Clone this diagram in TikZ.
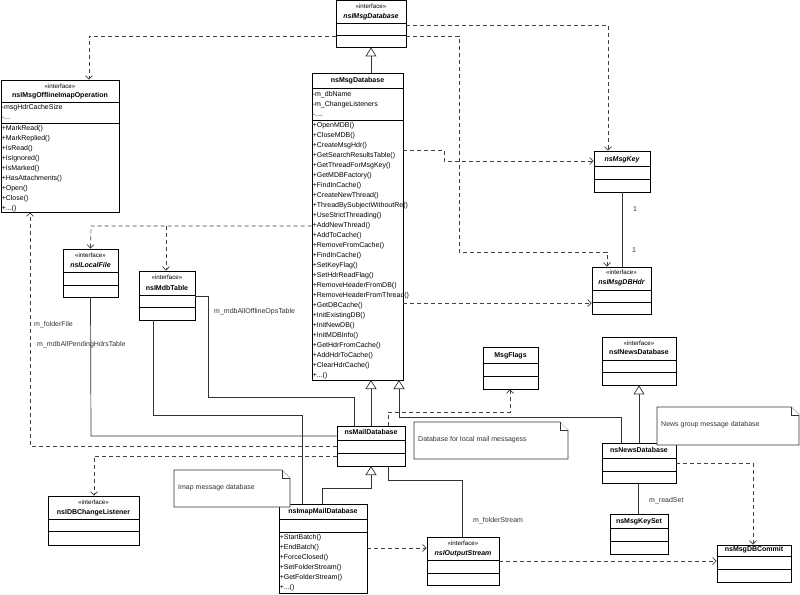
\documentclass[tikz,border=0pt]{standalone}
\usepackage{fontspec}
\setmainfont{Liberation Sans}
\usetikzlibrary{fit,arrows.meta}
\newcommand\fs{\fontsize{7}{10}\selectfont}
\newcommand\fss{\fontsize{6.2}{8}\selectfont}
\tikzset{
 cls/.style={draw,inner sep=0pt,fill=white,line width=0.8pt},
 dep/.style={draw=black!75,line width=0.7pt,dash pattern=on 4pt off 3pt,-{Straight Barb[length=3.5pt,width=7pt]}},
 inh/.style={draw=black!80,line width=0.7pt,-{Triangle[open,length=9pt,width=11pt,fill=white]}},
 asc/.style={draw=black!80,line width=0.7pt},
 lbl/.style={font=\fs,inner sep=0pt,anchor=base west,text=black!80},
 note/.style={draw=black!80,line width=0.7pt,fill=white},
}
\newcommand\mkcls[5]{\path (#2,#3) coordinate (#1-a) (#4,#5) coordinate (#1-b); \node[cls,fit=(#1-a)(#1-b)] (#1) {};}
\newcommand\hl[2]{\path (0,#2) coordinate (tmp); \draw[line width=0.7pt] (#1.west|-tmp) -- (#1.east|-tmp);}
\newcommand\itf[2]{\path (0,#2+2.2) coordinate (tmp); \node[font=\fss,inner sep=0pt,anchor=base] at (#1.north|-tmp) {«interface»};}
\newcommand\nm[3]{\path (0,#2+2.5) coordinate (tmp); \node[font=\fs\bfseries,inner sep=0pt,anchor=base] at (#1.north|-tmp) {#3};}
\newcommand\lst[3]{\path (0,#2+2) coordinate (tmp); \node[font=\fs,inner sep=0pt,align=left,anchor=north west] at ([xshift=1pt]#1.west|-tmp) {#3};}
\begin{document}
\begin{tikzpicture}[x=1pt,y=-1pt]
\useasboundingbox[fill=white] (0,0) rectangle (800,594);
% classes
\mkcls{imsgdb}{336}{0}{406}{47}
\itf{imsgdb}{6}\nm{imsgdb}{16}{\itshape nsIMsgDatabase}\hl{imsgdb}{23}\hl{imsgdb}{35}

\mkcls{offl}{1}{80}{119}{212}
\itf{offl}{86}\nm{offl}{95}{nsIMsgOfflineImapOperation}\hl{offl}{102}
\lst{offl}{102.5}{-msgHdrCacheSize\\-...}\hl{offl}{123}
\lst{offl}{123.5}{+MarkRead()\\+MarkReplied()\\+IsRead()\\+IsIgnored()\\+IsMarked()\\+HasAttachments()\\+Open()\\+Close()\\+...()}

\mkcls{msgdb}{312}{73}{403}{380}
\nm{msgdb}{80}{nsMsgDatabase}\hl{msgdb}{88}
\lst{msgdb}{89}{-m\_dbName\\-m\_ChangeListeners\\-....}\hl{msgdb}{120}
\lst{msgdb}{120.5}{+OpenMDB()\\+CloseMDB()\\+CreateMsgHdr()\\+GetSearchResultsTable()\\+GetThreadForMsgKey()\\+GetMDBFactory()\\+FindInCache()\\+CreateNewThread()\\+ThreadBySubjectWithoutRe()\\+UseStrictThreading()\\+AddNewThread()\\+AddToCache()\\+RemoveFromCache()\\+FindInCache()\\+SetKeyFlag()\\+SetHdrReadFlag()\\+RemoveHeaderFromDB()\\+RemoveHeaderFromThread()\\+GetDBCache()\\+InitExistingDB()\\+InitNewDB()\\+InitMDBInfo()\\+GetHdrFromCache()\\+AddHdrToCache()\\+ClearHdrCache()\\+...()}

\mkcls{key}{594}{151}{650}{192}
\nm{key}{159}{\itshape nsMsgKey}\hl{key}{166}\hl{key}{179}

\mkcls{hdr}{592}{267}{651}{314}
\itf{hdr}{272}\nm{hdr}{282}{\itshape nsIMsgDBHdr}\hl{hdr}{290}\hl{hdr}{302}

\mkcls{lfile}{63}{249}{118}{297}
\itf{lfile}{255}\nm{lfile}{265}{\itshape nsILocalFile}\hl{lfile}{272}\hl{lfile}{285}

\mkcls{mdbt}{139}{271}{195}{320}
\itf{mdbt}{277}\nm{mdbt}{288}{nsIMdbTable}\hl{mdbt}{295}\hl{mdbt}{307}

\mkcls{chl}{48}{496}{139}{545}
\itf{chl}{502}\nm{chl}{512}{nsIDBChangeListener}\hl{chl}{519}\hl{chl}{531}

\mkcls{mail}{337}{426}{405}{466}
\nm{mail}{432}{nsMailDatabase}\hl{mail}{440}\hl{mail}{453}

\mkcls{imap}{279}{504}{367}{593}
\nm{imap}{511}{nsImapMailDatabase}\hl{imap}{519}\hl{imap}{532}
\lst{imap}{532.5}{+StartBatch()\\+EndBatch()\\+ForceClosed()\\+SetFolderStream()\\+GetFolderStream()\\+...()}

\mkcls{flags}{483}{347}{538}{389}
\nm{flags}{355}{MsgFlags}\hl{flags}{363}\hl{flags}{376}

\mkcls{inews}{602}{337}{676}{385}
\itf{inews}{343}\nm{inews}{352}{nsINewsDatabase}\hl{inews}{360}\hl{inews}{372}

\mkcls{news}{602}{443}{676}{483}
\nm{news}{450}{nsNewsDatabase}\hl{news}{458}\hl{news}{471}

\mkcls{kset}{610}{514}{668}{554}
\nm{kset}{521}{nsMsgKeySet}\hl{kset}{528}\hl{kset}{541}

\mkcls{commit}{717}{545}{791}{582}
\nm{commit}{549}{nsMsgDBCommit}\hl{commit}{556}\hl{commit}{569}

\mkcls{ostr}{427}{537}{499}{585}
\itf{ostr}{543}\nm{ostr}{553}{\itshape nsIOutputStream}\hl{ostr}{560}\hl{ostr}{573}

% notes
\draw[note] (414,422) -- (560,422) -- (568,430) -- (568,459) -- (414,459) -- cycle; \draw[note] (560,422) -- (560,430) -- (568,430);
\node[lbl,anchor=west] (n1) at (418,440) {Database for local mail messagess};
\draw[note] (174,470) -- (282,470) -- (290,478) -- (290,507) -- (174,507) -- cycle; \draw[note] (282,470) -- (282,478) -- (290,478);
\node[lbl,anchor=west] (n2) at (178,488) {Imap message database};
\draw[note] (657,407) -- (791,407) -- (799,415) -- (799,445) -- (657,445) -- cycle; \draw[note] (791,407) -- (791,415) -- (799,415);
\node[lbl,anchor=west] (n3) at (661,425) {News group message database};

% inheritance
\draw[inh] (msgdb.north-|imsgdb.south) -- (imsgdb.south);
\draw[inh] (mail.north-|371,0) -- (371,380);
\draw[inh] (news.north-|621,0) -- (621,417) -- (399,417) -- (399,380);
\draw[inh] (news.north-|inews.south) -- (inews.south);
\draw[inh] (imap.north-|322,0) -- (322,488) -- (371,488) -- (371,466);

% associations
\draw[asc] (lfile.south) -- (91,436) -- (mail.west|-0,436);
\draw[asc] (mdbt.south-|153,0) -- (153,415) -- (302,415) -- (imap.north-|302,0);
\draw[asc] (mdbt.east|-0,296) -- (208,296) -- (208,397) -- (354,397) -- (mail.north-|354,0);
\draw[asc] (mail.south-|388,0) -- (388,480) -- (462,480) -- (ostr.north-|462,0);
\draw[asc] (news.south-|638,0) -- (kset.north-|638,0);
\draw[asc] (key.south-|622,0) -- (hdr.north-|622,0);
\node[lbl] at (633,211) {1};
\node[lbl] at (632,252) {1};
\node[lbl] at (34,326) {m\_folderFile};
\node[lbl] at (37,346) {m\_mdbAllPendingHdrsTable};
\node[lbl] at (214,313) {m\_mdbAllOfflineOpsTable};
\node[lbl] at (473,522) {m\_folderStream};
\node[lbl] at (649,502) {m\_readSet};

% dependencies
\draw[dep] (imsgdb.west|-0,36) -- (89,36) -- (offl.north-|89,0);
\draw[dep] (imsgdb.east|-0,25) -- (608,25) -- (key.north-|608,0);
\draw[dep] (imsgdb.east|-0,36) -- (459,36) -- (459,252) -- (607,252) -- (hdr.north-|607,0);
\draw[dep] (msgdb.east|-0,150) -- (444,150) -- (444,161) -- (key.west|-0,161);
\draw[dep] (msgdb.west|-0,226) -- (91,226) -- (lfile.north);
\draw[dep] (166,226) -- (mdbt.north-|166,0);
\draw[dep] (msgdb.east|-0,303) -- (hdr.west|-0,303);
\draw[dep] (mail.west|-0,446) -- (30,446) -- (offl.south-|30,0);
\draw[dep] (mail.west|-0,456) -- (94,456) -- (chl.north-|94,0);
\draw[dep] (mail.north-|388,0) -- (388,412) -- (510,412) -- (flags.south-|510,0);
\draw[dep] (news.east|-0,463) -- (753,463) -- (commit.north-|753,0);
\draw[dep] (ostr.east|-0,561) -- (commit.west|-0,561);
\draw[dep] (imap.east|-0,548) -- (ostr.west|-0,548);
\end{tikzpicture}
\end{document}
